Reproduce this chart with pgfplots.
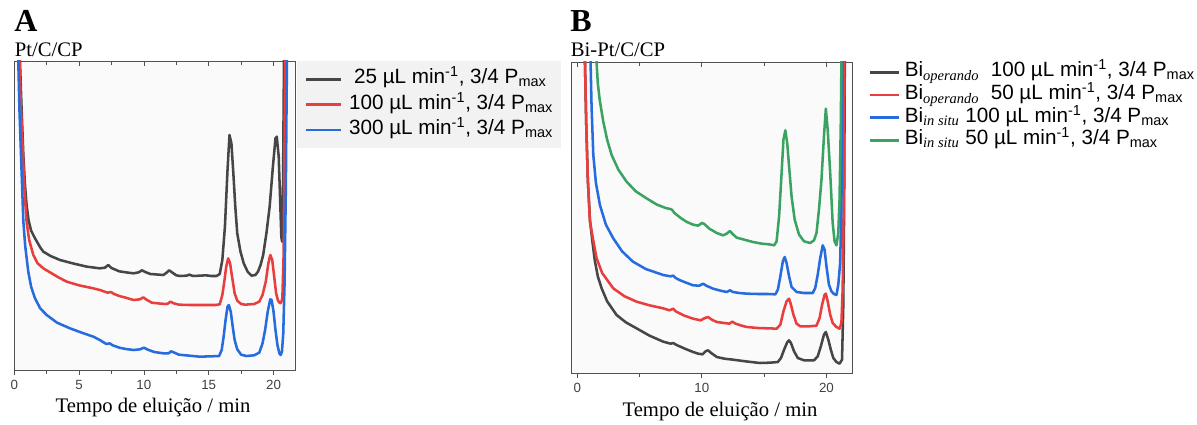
\documentclass[border=0pt]{standalone}
\usepackage{fontspec}
\setmainfont{Liberation Serif}
\setsansfont{Liberation Sans}
\usepackage{pgfplots}
\pgfplotsset{compat=1.18}

\definecolor{cblack}{RGB}{70,70,70}
\definecolor{cred}{RGB}{232,62,62}
\definecolor{cblue}{RGB}{38,108,222}
\definecolor{cgreen}{RGB}{58,163,98}
\definecolor{caxis}{RGB}{80,80,80}

\pgfplotsset{
  base/.style={scale only axis, anchor=south west, ytick=\empty,
    axis line style={caxis, line width=0.6pt},
    xtick pos=lower, tick align=outside,
    major tick length=4pt, minor tick length=2.75pt,
    every tick/.style={caxis, line width=0.6pt},
    minor x tick num=1,
    /pgf/number format/assume math mode=true,
    tick label style={font=\fontsize{10}{10}\selectfont\sffamily, text=black!75},
    axis background/.style={fill=black!2},
    legend cell align=left,
  },
  toptk/.style={scale only axis, anchor=south west, ytick=\empty,
    xtick pos=upper, tick align=inside, xticklabels={},
    major tick length=4pt, minor tick length=2.75pt,
    every tick/.style={caxis, line width=0.6pt},
    minor x tick num=1, axis line style={draw=none}, ymin=0, ymax=1,
  },
}

\begin{document}
\begin{tikzpicture}
\path[use as bounding box] (0pt,0pt) rectangle (897.75pt,318.75pt);

% ---------------- Panel A ----------------
\begin{axis}[base, at={(10.7pt,41.25pt)}, width=210.5pt, height=231.75pt,
  xmin=0, xmax=21.65, ymin=0, ymax=927,
  xtick={0,5,10,15,20},
  legend image code/.code={\draw[#1, line width=1.9pt] (0pt,0pt) -- (26pt,0pt);},
  legend style={at={(1,1)}, anchor=north west, xshift=1.5pt, draw=none, fill=black!5,
    font=\fontsize{15.5}{16}\selectfont\sffamily, inner sep=6pt, row sep=4pt, column sep=5pt,
    nodes={inner sep=0pt, text height=11pt, text depth=4pt}},
]
\addplot[cblack, line width=1.9pt, line join=round] coordinates {
(0.40,1000) (0.44,927) (0.55,800) (0.70,645) (0.82,560) (0.95,495) (1.10,450) (1.30,418)
(1.60,395) (2.00,368) (2.24,355) (2.80,342) (3.53,330) (4.50,320) (5.60,310) (6.60,305)
(7.00,307) (7.25,315) (7.50,306) (8.10,296) (8.60,293) (9.20,290) (9.60,293)
(9.85,299) (10.10,294) (10.50,288) (11.50,285) (11.75,292) (11.95,299) (12.20,292) (12.50,284)
(12.80,282) (13.30,283) (13.50,286) (13.80,282) (14.30,283) (14.80,284) (15.20,282) (15.60,282)
(15.85,288) (16.05,330) (16.25,430) (16.45,600) (16.60,705) (16.75,680) (16.90,590) (17.05,490)
(17.20,410) (17.45,355) (17.70,320) (18.00,295) (18.30,283) (18.60,285) (18.80,295) (19.00,315)
(19.20,345) (19.45,410) (19.70,490) (19.95,610) (20.15,695) (20.25,700) (20.40,640) (20.50,520)
(20.60,400) (20.66,385) (20.72,500) (20.78,800) (20.82,1000)};
\addlegendentry{\hspace{3.75pt}25 µL min\textsuperscript{-1}, 3/4 P\textsubscript{max}}
\addplot[cred, line width=1.9pt, line join=round] coordinates {
(0.35,1000) (0.40,927) (0.50,800) (0.67,645) (0.80,530) (0.95,445) (1.15,390) (1.47,345)
(1.80,320) (2.24,305) (2.80,292) (3.40,278) (4.05,265) (5.00,254) (6.10,245) (6.60,240)
(7.20,232) (7.45,234) (7.70,228) (8.10,222) (8.50,218) (9.20,210) (9.70,212) (9.95,218) (10.20,211)
(10.60,202) (11.30,199) (11.80,198) (12.05,205) (12.30,200) (12.70,196) (13.50,195) (14.50,195)
(15.50,195) (15.85,197) (16.05,225) (16.20,265) (16.35,310) (16.50,335) (16.65,320) (16.80,280)
(17.00,230) (17.20,208) (17.50,198) (17.80,196) (18.50,198) (18.90,205) (19.15,225) (19.40,265)
(19.60,320) (19.75,345) (19.90,330) (20.05,280) (20.20,230) (20.35,208) (20.50,200) (20.58,202)
(20.68,215) (20.78,350) (20.85,700) (20.92,1000)};
\addlegendentry{100 µL min\textsuperscript{-1}, 3/4 P\textsubscript{max}}
\addplot[cblue, line width=1.9pt, line join=round] coordinates {
(0.28,1000) (0.31,927) (0.40,780) (0.52,645) (0.70,445) (0.85,370) (1.08,295) (1.30,250)
(1.60,215) (2.00,185) (2.50,165) (3.30,142) (4.30,125) (5.20,112) (6.10,100) (6.60,90)
(7.10,78) (7.35,80) (7.60,74) (8.10,67) (8.60,63) (9.20,60) (9.70,62) (10.00,67) (10.30,61)
(10.80,54) (11.50,50) (11.90,50) (12.10,56) (12.35,52) (12.70,46) (13.50,43) (14.30,40)
(15.20,41) (15.80,42) (16.00,60) (16.15,100) (16.30,150) (16.45,190) (16.55,195) (16.70,175)
(16.85,130) (17.00,90) (17.20,62) (17.50,46) (17.90,42) (18.50,44) (18.90,52) (19.15,80)
(19.35,120) (19.55,175) (19.75,212) (19.85,210) (20.00,175) (20.15,120) (20.30,75) (20.45,50)
(20.55,45) (20.65,55) (20.75,110) (20.85,260) (20.95,550) (21.05,1000)};
\addlegendentry{300 µL min\textsuperscript{-1}, 3/4 P\textsubscript{max}}
\end{axis}
\begin{axis}[toptk, at={(10.7pt,41.25pt)}, width=210.5pt, height=231.75pt,
  xmin=0, xmax=21.65, xtick={0,5,10,15,20}]
\end{axis}

% ---------------- Panel B ----------------
\begin{axis}[base, at={(428.25pt,39pt)}, width=210.75pt, height=233.25pt,
  xmin=-0.5, xmax=22.05, ymin=0, ymax=933,
  xtick={0,10,20},
  legend image code/.code={\draw[#1, line width=1.9pt] (0pt,0pt) -- (22pt,0pt);},
  legend style={at={(1,1)}, anchor=north west, xshift=12pt, yshift=0pt, draw=none, fill=none,
    font=\fontsize{15.5}{16}\selectfont\sffamily, inner sep=0pt, row sep=2pt, column sep=3.5pt,
    nodes={inner sep=0pt, text height=11pt, text depth=4pt}},
]
\addplot[cblack, line width=1.9pt, line join=round] coordinates {
(0.60,1000) (0.62,933) (0.72,750) (0.85,580) (1.02,460) (1.20,400) (1.40,340) (1.65,290)
(1.96,254) (2.40,215) (3.16,174) (3.90,152) (4.76,134) (5.80,112) (6.90,94) (7.50,88)
(7.70,90) (7.97,84) (8.70,72) (9.30,63) (9.70,58) (10.05,56) (10.30,65) (10.50,68) (10.75,60)
(11.20,48) (11.80,43) (12.50,40) (13.50,35) (14.65,30) (15.50,31) (16.10,33) (16.35,45)
(16.60,70) (16.85,92) (17.00,98) (17.15,90) (17.40,65) (17.70,45) (18.20,38) (19.00,38)
(19.30,50) (19.55,80) (19.80,115) (19.95,123) (20.15,100) (20.35,70) (20.55,45) (20.80,33)
(21.05,28) (21.25,40) (21.35,200) (21.42,500) (21.48,1000)};
\addlegendentry{Bi\textsubscript{\rmfamily\itshape operando}\ \ 100 µL min\textsuperscript{-1}, 3/4 P\textsubscript{max}}
\addplot[cred, line width=1.9pt, line join=round] coordinates {
(0.60,1000) (0.62,933) (0.72,750) (0.85,580) (1.02,454) (1.30,395) (1.55,345) (2.00,300)
(2.89,254) (3.80,230) (4.76,214) (5.80,203) (6.90,194) (7.40,188) (7.70,193)
(7.90,185) (8.60,172) (9.30,163) (9.90,158) (10.25,165) (10.50,168) (10.80,160) (11.20,153)
(11.80,150) (12.20,148) (12.45,154) (12.70,148) (13.20,142) (13.60,138) (14.50,135) (15.30,134)
(16.00,133) (16.30,145) (16.55,185) (16.80,215) (17.00,223) (17.15,205) (17.35,175) (17.60,148)
(17.90,140) (18.60,140) (19.20,142) (19.45,165) (19.65,205) (19.85,235) (19.95,238) (20.10,215)
(20.30,175) (20.50,150) (20.80,138) (21.05,133) (21.20,150) (21.30,250) (21.38,500) (21.45,1000)};
\addlegendentry{Bi\textsubscript{\rmfamily\itshape operando}\ \ 50 µL min\textsuperscript{-1}, 3/4 P\textsubscript{max}}
\addplot[cblue, line width=1.9pt, line join=round] coordinates {
(1.04,1000) (1.07,933) (1.15,800) (1.29,654) (1.50,570) (1.82,504) (2.30,445) (2.89,404)
(3.60,365) (4.47,334) (5.50,312) (6.90,294) (7.50,290) (7.70,292) (7.90,285) (8.20,279)
(8.60,273) (9.30,263) (9.80,262) (10.10,268) (10.35,262) (10.90,253)
(11.50,247) (12.00,243) (12.25,248) (12.50,243) (13.00,240) (13.60,238) (14.50,237) (15.30,237)
(15.90,236) (16.10,250) (16.30,290) (16.50,335) (16.65,348) (16.80,330) (17.00,290) (17.20,258)
(17.60,243) (18.20,240) (18.90,240) (19.10,255) (19.30,295) (19.50,345) (19.70,383) (19.85,370)
(20.00,320) (20.20,265) (20.40,245) (20.60,237) (20.80,234) (20.95,265) (21.10,330) (21.20,500)
(21.30,1000)};
\addlegendentry{Bi\textsubscript{\rmfamily\itshape in situ} 100 µL min\textsuperscript{-1}, 3/4 P\textsubscript{max}}
\addplot[cgreen, line width=1.9pt, line join=round] coordinates {
(1.52,1000) (1.55,933) (1.65,870) (1.80,820) (2.09,754) (2.40,700) (2.76,654) (3.30,610)
(3.96,574) (4.70,545) (5.56,524) (6.40,505) (7.10,495) (7.45,492)
(7.60,490) (7.80,480) (8.30,465) (8.80,453) (9.30,445) (9.70,442) (10.00,450) (10.20,447)
(10.60,433) (11.20,420) (11.70,413) (12.00,418) (12.25,426) (12.50,416) (12.80,406) (13.40,400)
(14.10,393) (14.80,388) (15.40,386) (15.80,383) (16.00,395) (16.20,470) (16.40,600) (16.55,700)
(16.70,728) (16.85,690) (17.00,620) (17.20,530) (17.45,460) (17.80,415) (18.20,395) (18.70,390)
(19.00,398) (19.20,420) (19.40,490) (19.60,580) (19.80,710) (19.95,793) (20.10,730) (20.30,600)
(20.50,450) (20.65,395) (20.80,383) (20.95,420) (21.05,520) (21.15,750) (21.22,1000)};
\addlegendentry{Bi\textsubscript{\rmfamily\itshape in situ} 50 µL min\textsuperscript{-1}, 3/4 P\textsubscript{max}}
\end{axis}
\begin{axis}[toptk, at={(428.25pt,39pt)}, width=210.75pt, height=233.25pt,
  xmin=-0.5, xmax=22.05, xtick={0,10,20}]
\end{axis}

% ---------------- Texts ----------------
\node[anchor=base west, inner sep=0pt, font=\fontsize{24}{24}\selectfont\bfseries] at (10.5pt,295pt) {A};
\node[anchor=base west, inner sep=0pt, font=\fontsize{15.5}{15.5}\selectfont] at (11pt,276pt) {Pt/C/CP};
\node[anchor=base west, inner sep=0pt, font=\fontsize{24}{24}\selectfont\bfseries] at (427.5pt,295pt) {B};
\node[anchor=base west, inner sep=0pt, font=\fontsize{15.5}{15.5}\selectfont] at (428pt,276pt) {Bi-Pt/C/CP};
\node[anchor=base, inner sep=0pt, font=\fontsize{15.5}{15.5}\selectfont] at (114.75pt,9pt) {Tempo de eluição / min};
\node[anchor=base, inner sep=0pt, font=\fontsize{15.5}{15.5}\selectfont] at (540pt,6pt) {Tempo de eluição / min};
\end{tikzpicture}
\end{document}
